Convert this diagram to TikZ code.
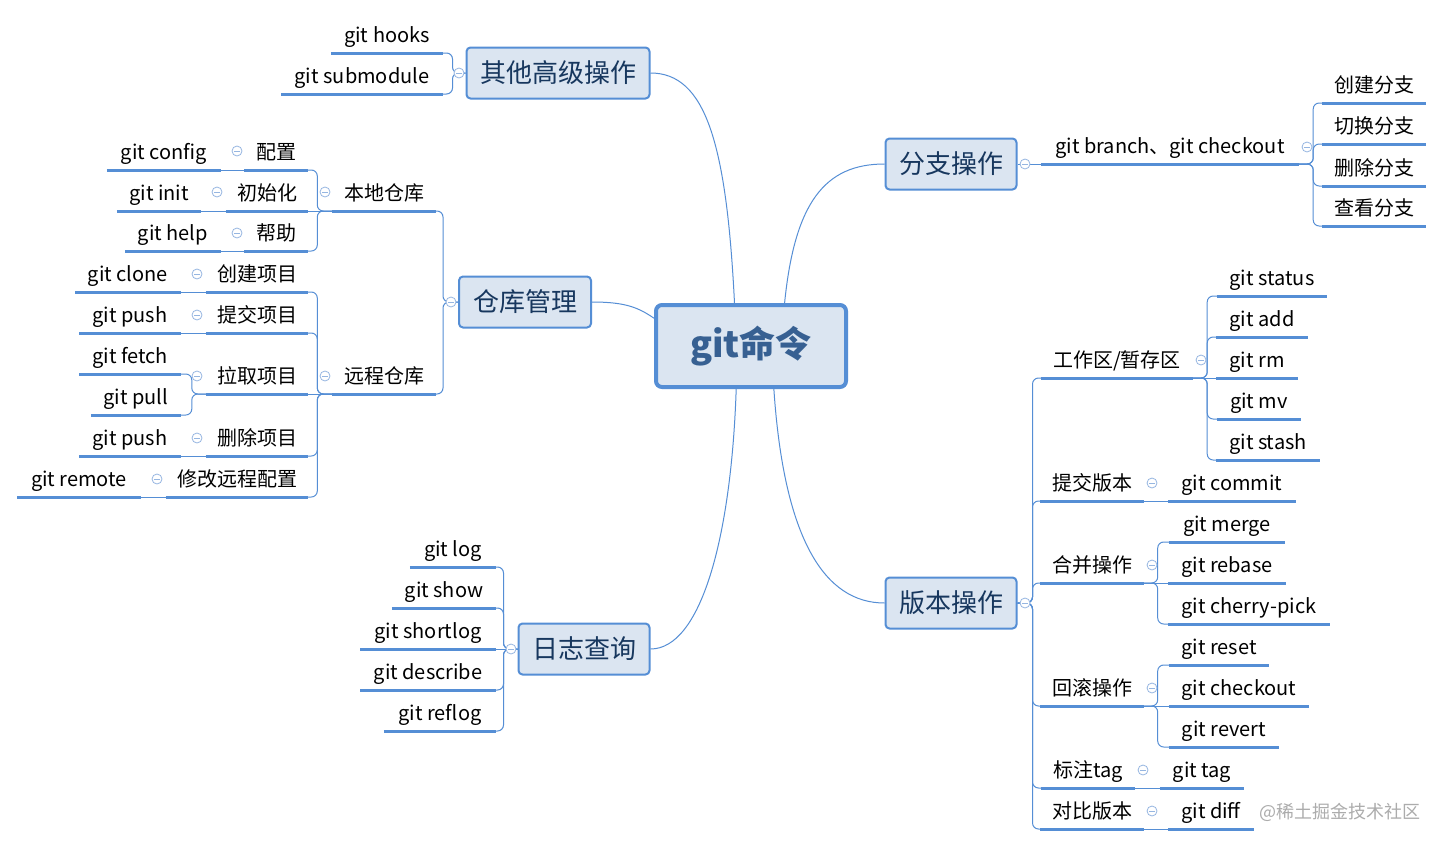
\documentclass[tikz,border=0pt]{standalone}
\usepackage{fontspec}
\setmainfont{Noto Sans CJK SC}
\definecolor{mmline}{RGB}{85,142,213}
\definecolor{mmfill}{RGB}{219,229,241}
\definecolor{mmtext}{RGB}{23,55,94}
\definecolor{mmroot}{RGB}{55,96,146}
\definecolor{mmfold}{RGB}{150,182,225}

\begin{document}
\begin{tikzpicture}[x=1pt, y=-1pt,
  root/.style={draw=mmline, line width=4pt, fill=mmfill, rounded corners=6pt, text=mmroot,
    font=\fontsize{36pt}{40pt}\selectfont\bfseries, minimum width=190pt, minimum height=82pt},
  topic/.style={draw=mmline, line width=2pt, fill=mmfill, rounded corners=4pt, text=mmtext,
    font=\fontsize{26pt}{30pt}\selectfont, minimum height=51pt},
  uline/.style={draw=mmline, line width=3pt},
  sub/.style={font=\fontsize{20pt}{24pt}\selectfont, text=black, anchor=south, inner xsep=0pt,
    inner ysep=5pt, text height=17pt, text depth=5pt,
    append after command={(\tikzlastnode.south west) edge[uline] (\tikzlastnode.south east)}},
  link/.style={draw=mmline, line width=1pt, rounded corners=6pt},
  fold/.style={circle, draw=mmfold, fill=white, line width=0.8pt, minimum size=10pt, inner sep=0pt,
    path picture={\draw[mmfold, line width=0.8pt] ([xshift=-3pt]path picture bounding box.center)
      -- ([xshift=3pt]path picture bounding box.center);}},
]
\fill[white] (0,0) rectangle (1444,846);
\useasboundingbox (0,0) rectangle (1444,846);

% centre and main topics
\node[root] (root) at (751,346) {git命令};
\node[topic, minimum width=183] (other) at (558,73) {其他高级操作};
\node[topic, minimum width=132] (repo) at (525,302) {仓库管理};
\node[topic, minimum width=131] (log) at (584,649) {日志查询};
\node[topic, minimum width=131] (branch) at (951,164) {分支操作};
\node[topic, minimum width=131] (ver) at (951,603) {版本操作};

% other
\node[sub, minimum width=112] (hooks) at (387,53) {git hooks};
\node[sub, minimum width=161] (submod) at (362,94) {git submodule};

% repo
\node[sub, minimum width=103] (local) at (384,211) {本地仓库};
\node[sub, minimum width=103] (remote) at (384,394) {远程仓库};
\node[sub, minimum width=63] (cfg) at (276,170) {配置};
\node[sub, minimum width=82] (initc) at (267,211) {初始化};
\node[sub, minimum width=63] (helpc) at (276,251) {帮助};
\node[sub, minimum width=114] (gconfig) at (164,170) {git config};
\node[sub, minimum width=84] (ginit) at (159,211) {git init};
\node[sub, minimum width=95] (ghelp) at (173,251) {git help};
\node[sub, minimum width=102] (create) at (257,292) {创建项目};
\node[sub, minimum width=102] (submit) at (257,333) {提交项目};
\node[sub, minimum width=102] (pull) at (257,394) {拉取项目};
\node[sub, minimum width=102] (drop) at (257,456) {删除项目};
\node[sub, minimum width=142] (modify) at (237,497) {修改远程配置};
\node[sub, minimum width=105] (gclone) at (128,292) {git clone};
\node[sub, minimum width=101] (gpush) at (130,333) {git push};
\node[sub, minimum width=101] (gfetch) at (130,374) {git fetch};
\node[sub, minimum width=90] (gpull) at (136,415) {git pull};
\node[sub, minimum width=101] (gpushd) at (130,456) {git push};
\node[sub, minimum width=123] (gremote) at (79,497) {git remote};

% log
\node[sub, minimum width=86] (glog) at (453,567) {git log};
\node[sub, minimum width=104] (gshow) at (444,608) {git show};
\node[sub, minimum width=135] (gshort) at (428,649) {git shortlog};
\node[sub, minimum width=135] (gdesc) at (428,690) {git describe};
\node[sub, minimum width=112] (greflog) at (440,731) {git reflog};

% branch
\node[sub, minimum width=258] (bcmd) at (1170,164) {git branch、git checkout};
\node[sub, minimum width=103] (bnew) at (1374,103) {创建分支};
\node[sub, minimum width=103] (bswitch) at (1374,144) {切换分支};
\node[sub, minimum width=103] (bdel) at (1374,186) {删除分支};
\node[sub, minimum width=103] (bview) at (1374,226) {查看分支};

% ver
\node[sub, minimum width=152] (ws) at (1117,378) {工作区/暂存区};
\node[sub, minimum width=110] (gstatus) at (1272,296) {git status};
\node[sub, minimum width=91] (gadd) at (1262,337) {git add};
\node[sub, minimum width=81] (grm) at (1257,378) {git rm};
\node[sub, minimum width=84] (gmv) at (1259,419) {git mv};
\node[sub, minimum width=103] (gstash) at (1268,460) {git stash};
\node[sub, minimum width=103] (cver) at (1092,501) {提交版本};
\node[sub, minimum width=127] (gcommit) at (1232,501) {git commit};
\node[sub, minimum width=103] (mrg) at (1092,583) {合并操作};
\node[sub, minimum width=116] (gmerge) at (1227,542) {git merge};
\node[sub, minimum width=117] (grebase) at (1227,583) {git rebase};
\node[sub, minimum width=161] (gcherry) at (1249,624) {git cherry-pick};
\node[sub, minimum width=103] (roll) at (1092,706) {回滚操作};
\node[sub, minimum width=100] (greset) at (1219,665) {git reset};
\node[sub, minimum width=140] (gcheckout) at (1239,706) {git checkout};
\node[sub, minimum width=110] (grevert) at (1224,747) {git revert};
\node[sub, minimum width=94] (tagv) at (1088,788) {标注tag};
\node[sub, minimum width=84] (gtag) at (1202,788) {git tag};
\node[sub, minimum width=103] (cmp) at (1092,829) {对比版本};
\node[sub, minimum width=85] (gdiff) at (1211,829) {git diff};

\node[text=gray!65, font=\fontsize{18pt}{20pt}\selectfont] (wm) at (1340,812) {@稀土掘金技术社区};

% centre to topics
\draw[link] (other.east) .. controls +(55,0) and +(-8,-160) .. (root.111);
\draw[link] (repo.east) .. controls +(35,0) and +(-15,-10) .. (root.164);
\draw[link] (log.east) .. controls +(50,0) and +(-5,150) .. (root.251);
\draw[link] (branch.west) .. controls +(-60,0) and +(10,-100) .. (root.52);
\draw[link] (ver.west) .. controls +(-60,0) and +(10,150) .. (root.298);

% topics to subtopics
\draw[link] (other.west) -- ++(-13,0) |- (hooks.south east);
\draw[link] (other.west) -- ++(-13,0) |- (submod.south east);
\draw[link] (repo.west) -- ++(-15,0) |- (local.south east);
\draw[link] (repo.west) -- ++(-15,0) |- (remote.south east);
\draw[link] (local.south west) -- ++(-15,0) |- (cfg.south east);
\draw[link] (local.south west) -- (initc.south east);
\draw[link] (local.south west) -- ++(-15,0) |- (helpc.south east);
\draw[link] (cfg.south west) -- (gconfig.south east);
\draw[link] (initc.south west) -- (ginit.south east);
\draw[link] (helpc.south west) -- (ghelp.south east);
\draw[link] (remote.south west) -- ++(-15,0) |- (create.south east);
\draw[link] (remote.south west) -- ++(-15,0) |- (submit.south east);
\draw[link] (remote.south west) -- (pull.south east);
\draw[link] (remote.south west) -- ++(-15,0) |- (drop.south east);
\draw[link] (remote.south west) -- ++(-15,0) |- (modify.south east);
\draw[link] (create.south west) -- (gclone.south east);
\draw[link] (submit.south west) -- (gpush.south east);
\draw[link] (pull.south west) -- ++(-14,0) |- (gfetch.south east);
\draw[link] (pull.south west) -- ++(-14,0) |- (gpull.south east);
\draw[link] (drop.south west) -- (gpushd.south east);
\draw[link] (modify.south west) -- (gremote.south east);
\draw[link] (log.west) -- ++(-14,0) |- (glog.south east);
\draw[link] (log.west) -- ++(-14,0) |- (gshow.south east);
\draw[link] (log.west) -- (gshort.south east);
\draw[link] (log.west) -- ++(-14,0) |- (gdesc.south east);
\draw[link] (log.west) -- ++(-14,0) |- (greflog.south east);
\draw[link] (branch.east) -- (bcmd.south west);
\draw[link] (bcmd.south east) -- ++(14,0) |- (bnew.south west);
\draw[link] (bcmd.south east) -- ++(14,0) |- (bswitch.south west);
\draw[link] (bcmd.south east) -- ++(14,0) |- (bdel.south west);
\draw[link] (bcmd.south east) -- ++(14,0) |- (bview.south west);
\draw[link] (ver.east) -- ++(15,0) |- (ws.south west);
\draw[link] (ver.east) -- ++(15,0) |- (cver.south west);
\draw[link] (ver.east) -- ++(15,0) |- (mrg.south west);
\draw[link] (ver.east) -- ++(15,0) |- (roll.south west);
\draw[link] (ver.east) -- ++(15,0) |- (tagv.south west);
\draw[link] (ver.east) -- ++(15,0) |- (cmp.south west);
\draw[link] (ws.south east) -- ++(14,0) |- (gstatus.south west);
\draw[link] (ws.south east) -- ++(14,0) |- (gadd.south west);
\draw[link] (ws.south east) -- (grm.south west);
\draw[link] (ws.south east) -- ++(14,0) |- (gmv.south west);
\draw[link] (ws.south east) -- ++(14,0) |- (gstash.south west);
\draw[link] (cver.south east) -- (gcommit.south west);
\draw[link] (mrg.south east) -- ++(14,0) |- (gmerge.south west);
\draw[link] (mrg.south east) -- (grebase.south west);
\draw[link] (mrg.south east) -- ++(14,0) |- (gcherry.south west);
\draw[link] (roll.south east) -- ++(14,0) |- (greset.south west);
\draw[link] (roll.south east) -- (gcheckout.south west);
\draw[link] (roll.south east) -- ++(14,0) |- (grevert.south west);
\draw[link] (tagv.south east) -- (gtag.south west);
\draw[link] (cmp.south east) -- (gdiff.south west);

% fold markers
\node[fold] (m-other) at (459,73) {};
\node[fold] (m-repo) at (451,302) {};
\node[fold] (m-log) at (511,649) {};
\node[fold] (m-branch) at (1025,164) {};
\node[fold] (m-ver) at (1025,603) {};
\node[fold] (m-local) at (325,192) {};
\node[fold] (m-remote) at (325,376) {};
\node[fold] (m-cfg) at (237,151) {};
\node[fold] (m-init) at (217,192) {};
\node[fold] (m-help) at (237,233) {};
\node[fold] (m-create) at (197,274) {};
\node[fold] (m-submit) at (197,315) {};
\node[fold] (m-pull) at (197,376) {};
\node[fold] (m-drop) at (197,438) {};
\node[fold] (m-modify) at (157,479) {};
\node[fold] (m-bcmd) at (1307,147) {};
\node[fold] (m-ws) at (1201,360) {};
\node[fold] (m-cver) at (1152,483) {};
\node[fold] (m-mrg) at (1152,565) {};
\node[fold] (m-roll) at (1152,688) {};
\node[fold] (m-tagv) at (1143,770) {};
\node[fold] (m-cmp) at (1152,811) {};
\end{tikzpicture}
\end{document}
